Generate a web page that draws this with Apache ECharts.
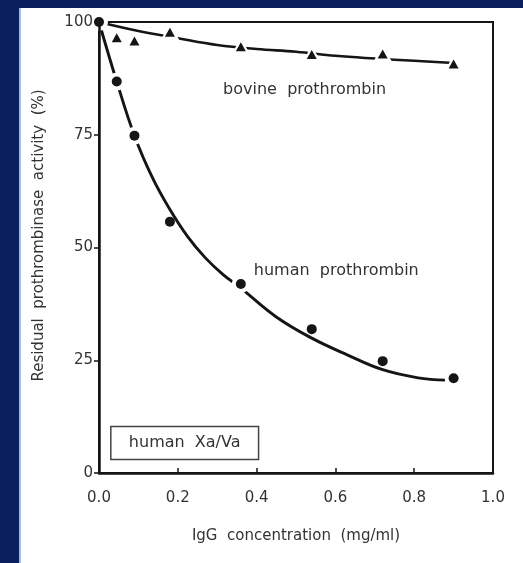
<!DOCTYPE html>
<html>
<head>
<meta charset="utf-8">
<script src="https://cdn.jsdelivr.net/npm/echarts@6/dist/echarts.min.js"></script>
<style>
  html, body { margin: 0; padding: 0; width: 523px; height: 563px; background: #0b1f5e; overflow: hidden; }
  #panel { position: absolute; left: 19px; top: 8px; width: 502px; height: 555px; background: #fff; border-left: 2px solid #a7b9de; }
  #chart { position: absolute; left: 0; top: 0; width: 523px; height: 563px; }
</style>
</head>
<body>
<div id="panel"></div>
<div id="chart"></div>
<script>
// Measured residual activity (%) against IgG concentration (mg/ml)
const humanX = [0, 0.045, 0.09, 0.18, 0.36, 0.54, 0.72, 0.90];
const humanY = [100, 86.8, 74.8, 55.7, 41.9, 31.9, 24.8, 21.0];
const bovineX = [0.045, 0.09, 0.18, 0.36, 0.54, 0.72, 0.90];
const bovineY = [96.5, 95.8, 97.7, 94.5, 92.8, 92.9, 90.7];

// Fitted curves through each data set
const humanFitX = [0, 0.045, 0.09, 0.135, 0.18, 0.225, 0.27, 0.315, 0.36, 0.45, 0.54, 0.63, 0.72, 0.81, 0.88];
const humanFitY = [100, 86.8, 74.8, 65.6, 58.4, 52.4, 47.7, 44.0, 41.0, 34.6, 29.9, 26.2, 22.9, 21.1, 20.6];
const bovineFitX = [0, 0.1, 0.2, 0.3, 0.4, 0.5, 0.6, 0.7, 0.8, 0.9];
const bovineFitY = [100, 98.0, 96.4, 94.9, 94.0, 93.4, 92.5, 91.9, 91.4, 90.9];

// Axis ticks
const xTicks = [0, 0.2, 0.4, 0.6, 0.8, 1.0];
const yTicks = [0, 25, 50, 75, 100];

const zip = (xs, ys) => xs.map((x, i) => [x, ys[i]]);

// value of a fitted curve at x (straight between its knots), used only to
// decide which markers sit on their curve
function fitAt(fx, fy, x) {
  if (x >= fx[fx.length - 1]) return fy[fy.length - 1];
  for (let i = 1; i < fx.length; i++) {
    if (x <= fx[i]) {
      const t = (x - fx[i - 1]) / (fx[i] - fx[i - 1]);
      return fy[i - 1] + t * (fy[i] - fy[i - 1]);
    }
  }
  return fy[0];
}
const onCurve = (xs, ys, fx, fy) =>
  zip(xs, ys).filter(([x, y]) => Math.abs(y - fitAt(fx, fy, x)) < 1.5);

const ink = '#151515';
const textCol = '#333';
const font = 'DejaVu Sans';

const chart = echarts.init(document.getElementById('chart'), null, { renderer: 'canvas' });

// white halo under markers lying on their curve, so the curve breaks around them
const halo = (name, symbol, size, pts) => ({
  name: name + ' halo', type: 'scatter', symbol, symbolSize: size, z: 3, silent: true,
  data: pts, itemStyle: { color: '#fff', opacity: 1 }
});

const option = {
  backgroundColor: 'transparent',
  animation: false,
  grid: {
    left: 99, right: 30, top: 22, bottom: 90,
    show: true, borderColor: ink, borderWidth: 2, backgroundColor: 'transparent'
  },
  xAxis: {
    type: 'value', z: 4,
    min: xTicks[0], max: xTicks[xTicks.length - 1], interval: 0.2,
    name: 'IgG  concentration  (mg/ml)',
    nameLocation: 'middle', nameGap: 56,
    nameTextStyle: { fontFamily: font, fontSize: 15, color: textCol },
    axisLine: { show: true, lineStyle: { color: ink, width: 2.5 } },
    axisTick: { show: true, inside: true, length: 5, lineStyle: { color: ink, width: 1.5 } },
    axisLabel: {
      margin: 18, fontFamily: font, fontSize: 15, color: textCol,
      formatter: v => v.toFixed(1)
    },
    splitLine: { show: false }
  },
  yAxis: {
    type: 'value', z: 4,
    min: yTicks[0], max: yTicks[yTicks.length - 1], interval: 25,
    name: 'Residual  prothrombinase  activity  (%)',
    nameLocation: 'middle', nameGap: 52, nameRotate: 90,
    nameTextStyle: { fontFamily: font, fontSize: 15, color: textCol, padding: [0, 0, 0, 24] },
    axisLine: { show: true, lineStyle: { color: ink, width: 2.5 } },
    axisTick: { show: true, inside: false, length: 5, lineStyle: { color: ink, width: 1.5 } },
    axisLabel: { margin: 6, fontFamily: font, fontSize: 15, color: textCol },
    splitLine: { show: false }
  },
  series: [
    {
      name: 'bovine fit', type: 'line', smooth: 0.4, showSymbol: false, z: 2,
      data: zip(bovineFitX, bovineFitY),
      lineStyle: { color: ink, width: 2.6 }
    },
    {
      name: 'human fit', type: 'line', smooth: 0.4, showSymbol: false, z: 2,
      data: zip(humanFitX, humanFitY),
      lineStyle: { color: ink, width: 2.9 }
    },
    halo('bovine prothrombin', 'triangle', [20, 18], onCurve(bovineX, bovineY, bovineFitX, bovineFitY)),
    halo('human prothrombin', 'circle', 18, onCurve(humanX, humanY, humanFitX, humanFitY)),
    {
      name: 'bovine prothrombin', type: 'scatter', symbol: 'triangle', symbolSize: [10, 9], z: 5,
      data: zip(bovineX, bovineY),
      itemStyle: { color: ink, opacity: 1 }
    },
    {
      name: 'human prothrombin', type: 'scatter', symbol: 'circle', symbolSize: 10, z: 6,
      data: zip(humanX, humanY),
      itemStyle: { color: ink, opacity: 1 }
    }
  ]
};

chart.setOption(option);

// Curve captions and the enzyme-system box, anchored in data space
const notes = [
  { text: 'bovine  prothrombin', at: [0.315, 84.9] },
  { text: 'human  prothrombin', at: [0.393, 44.8] }
];
const boxCorners = [[0.03, 10.3], [0.405, 3.0]];
const p0 = chart.convertToPixel({ gridIndex: 0 }, boxCorners[0]);
const p1 = chart.convertToPixel({ gridIndex: 0 }, boxCorners[1]);

const graphics = notes.map(n => {
  const p = chart.convertToPixel({ gridIndex: 0 }, n.at);
  return {
    type: 'text', x: p[0], y: p[1], z: 10,
    style: { text: n.text, fill: textCol, font: '16px "DejaVu Sans"', textVerticalAlign: 'middle', textAlign: 'left' }
  };
});
graphics.push({
  type: 'rect', z: 10,
  shape: { x: p0[0], y: p0[1], width: p1[0] - p0[0], height: p1[1] - p0[1] },
  style: { fill: '#fff', stroke: '#444', lineWidth: 1.5 }
});
graphics.push({
  type: 'text', z: 11,
  x: (p0[0] + p1[0]) / 2, y: (p0[1] + p1[1]) / 2,
  style: { text: 'human  Xa/Va', fill: textCol, font: '16px "DejaVu Sans"', textAlign: 'center', textVerticalAlign: 'middle' }
});
chart.setOption({ graphic: graphics });
</script>
</body>
</html>
